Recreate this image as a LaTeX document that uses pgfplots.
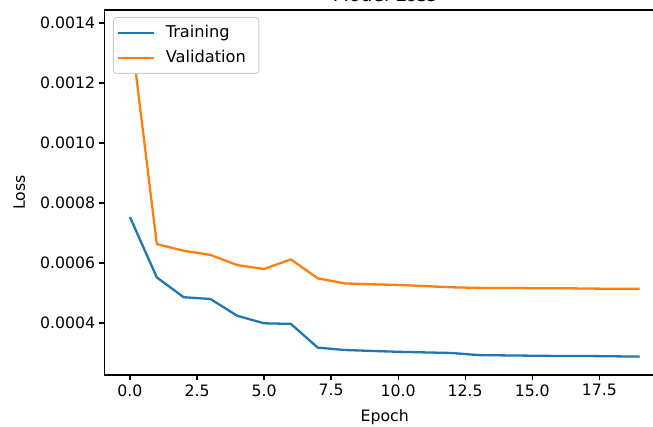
\documentclass[border=0pt]{standalone}
\usepackage{fontspec}
\setmainfont{DejaVu Sans}
\usepackage{pgfplots}
\pgfplotsset{compat=1.18}
\definecolor{tabblue}{HTML}{1F77B4}
\definecolor{taborange}{HTML}{FF7F0E}
\newcommand{\lf}{\fontsize{15.7}{18}\selectfont}
\begin{document}
\begin{tikzpicture}
\begin{axis}[
  at={(0pt,0pt)}, anchor=south west,
  scale only axis, width=560.5pt, height=365pt,
  xmin=-0.95, xmax=19.95, ymin=0.0002267, ymax=0.0014433,
  line width=1.3pt,
  tick pos=left, tick align=outside,
  major tick length=5.5pt,
  major tick style={line width=1.3pt, black},
  xtick={0,2.5,5,7.5,10,12.5,15,17.5},
  ytick={0.0004,0.0006,0.0008,0.0010,0.0012,0.0014},
  scaled y ticks=false, scaled x ticks=false,
  /pgf/number format/assume math mode=true,
  xticklabel style={/pgf/number format/fixed, /pgf/number format/precision=1, /pgf/number format/fixed zerofill, font=\lf},
  yticklabel style={/pgf/number format/fixed, /pgf/number format/precision=4, /pgf/number format/fixed zerofill, font=\lf},
  legend style={at={(rel axis cs:0,1)}, anchor=north west, xshift=8.5pt, yshift=-7pt,
    draw=black!20, line width=1pt, rounded corners=3pt, fill=white,
    font=\fontsize{16.2}{18}\selectfont, inner xsep=3pt, inner ysep=6pt, row sep=7pt, column sep=10pt,
    nodes={inner sep=1pt, text height=13pt, text depth=3.5pt}},
  legend cell align=left,
  legend image code/.code={\draw[#1] (0pt,0pt) -- (36pt,0pt);},
]
\addplot[color=tabblue, line width=2.3pt, line join=round] table {
0 0.000753
1 0.000552
2 0.000486
3 0.000480
4 0.000424
5 0.000399
6 0.000397
7 0.000318
8 0.000310
9 0.000307
10 0.000304
11 0.000302
12 0.000300
13 0.000293
14 0.000292
15 0.000291
16 0.000290
17 0.000290
18 0.000289
19 0.000288
};
\addlegendentry{Training}
\addplot[color=taborange, line width=2.3pt, line join=round] table {
0 0.001395
1 0.000663
2 0.000641
3 0.000627
4 0.000593
5 0.000580
6 0.000612
7 0.000549
8 0.000532
9 0.000529
10 0.000527
11 0.000523
12 0.000519
13 0.000517
14 0.000517
15 0.000516
16 0.000516
17 0.000515
18 0.000514
19 0.000514
};
\addlegendentry{Validation\kern9pt\null}
\end{axis}
\node[anchor=base, font=\fontsize{18.8}{22}\selectfont] at (280.25pt,373pt) {Model Loss};
\node[anchor=base, font=\lf] at (280.25pt,-46.5pt) {Epoch};
\node[anchor=base, rotate=90, font=\lf] at (-79.5pt,182.5pt) {Loss};
\pgfresetboundingbox
\useasboundingbox (-104.5pt,-52pt) rectangle (548.5pt,375pt);
\end{tikzpicture}
\end{document}
